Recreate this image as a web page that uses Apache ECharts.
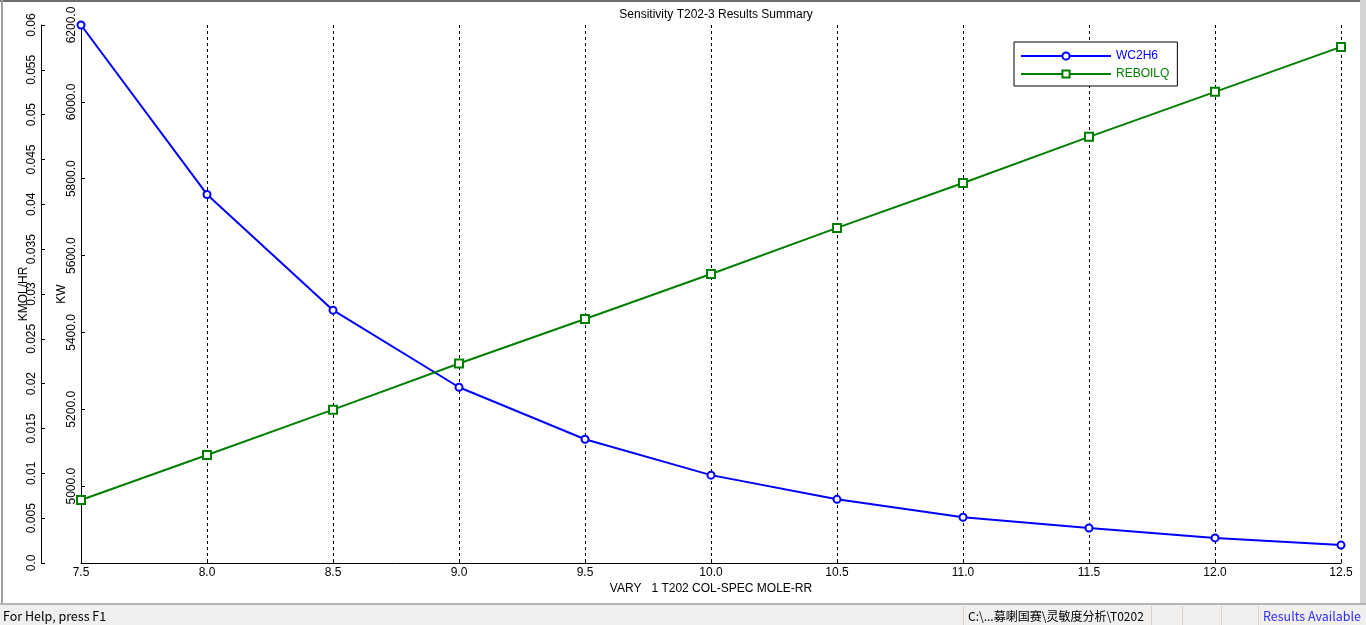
<!DOCTYPE html>
<html>
<head>
<meta charset="utf-8">
<script src="https://cdn.jsdelivr.net/npm/echarts@6/dist/echarts.min.js"></script>
<style>
html,body{margin:0;padding:0;background:#fff;}
#chart{width:1366px;height:625px;}
</style>
</head>
<body>
<div id="chart"></div>
<script>
var xValues = [7.5, 8.0, 8.5, 9.0, 9.5, 10.0, 10.5, 11.0, 11.5, 12.0, 12.5];
var wc2h6 = [0.0600, 0.0411, 0.0282, 0.0196, 0.0138, 0.0098, 0.0071, 0.0051, 0.0039, 0.0028, 0.0020];
var reboilq = [4964, 5081, 5199, 5319, 5435, 5552, 5672, 5789, 5909, 6026, 6143];
var seriesNames = ['WC2H6', 'REBOILQ'];
var titleText = 'Sensitivity T202-3 Results Summary';
var xAxisName = 'VARY   1 T202 COL-SPEC MOLE-RR';
var yAxisNames = ['KMOL/HR', 'KW'];
var statusTexts = ['For Help, press F1', 'C:\\...募喇国赛\\灵敏度分析\\T0202', 'Results Available'];

var FONT = '"Liberation Sans", Arial, sans-serif';
var SFONT = '"Noto Sans CJK SC", "Noto Sans", sans-serif';

function pairs(xs, ys) { return xs.map(function (x, i) { return [x, ys[i]]; }); }

var chart = echarts.init(document.getElementById('chart'), null, {renderer: 'canvas'});
var option = {
  backgroundColor: '#ffffff',
  animation: false,
  title: {
    text: titleText,
    left: 711,
    textAlign: 'center',
    top: 4,
    textStyle: {fontFamily: FONT, fontSize: 12, fontWeight: 'normal', color: '#000'}
  },
  legend: {
    orient: 'vertical',
    left: 1014,
    top: 42,
    padding: [8, 8, 6, 6],
    itemGap: 6,
    itemWidth: 90,
    itemHeight: 9,
    backgroundColor: '#ffffff',
    borderColor: '#000',
    borderWidth: 1,
    borderRadius: 0,
    textStyle: {fontFamily: FONT, fontSize: 12},
    data: [
      {name: seriesNames[0], textStyle: {color: '#0000ff'}},
      {name: seriesNames[1], textStyle: {color: '#008000'}}
    ]
  },
  grid: {left: 81, right: 25, top: 25, bottom: 62, containLabel: false},
  xAxis: {
    type: 'value',
    min: 7.5,
    max: 12.5,
    interval: 0.5,
    name: xAxisName,
    nameLocation: 'middle',
    nameGap: 20,
    nameMoveOverlap: false,
    nameTextStyle: {fontFamily: FONT, fontSize: 12, color: '#000'},
    axisLine: {show: true, onZero: false, lineStyle: {color: '#000', width: 1}},
    axisTick: {show: true, inside: true, length: 4, lineStyle: {color: '#000'}},
    axisLabel: {fontFamily: FONT, fontSize: 12, color: '#000', margin: 4,
      formatter: function (v) { return v.toFixed(1); }},
    splitLine: {show: true, lineStyle: {color: '#000', type: [3, 3], width: 1}}
  },
  yAxis: [
    {
      type: 'value',
      position: 'left',
      offset: 40,
      min: 0,
      max: 0.06,
      interval: 0.005,
      name: yAxisNames[0],
      nameLocation: 'middle',
      nameRotate: 90,
      nameGap: 11,
      nameMoveOverlap: false,
      nameTextStyle: {fontFamily: FONT, fontSize: 12, color: '#000'},
      axisLine: {show: true, onZero: false, lineStyle: {color: '#000', width: 1}},
      axisTick: {show: true, inside: true, length: 4, lineStyle: {color: '#000'}},
      axisLabel: {fontFamily: FONT, fontSize: 12, color: '#000', rotate: 90, margin: 3,
        formatter: function (v) { return v === 0 ? '0.0' : String(+v.toFixed(3)); }},
      splitLine: {show: false}
    },
    {
      type: 'value',
      position: 'left',
      offset: 0,
      min: 4800,
      max: 6200,
      interval: 200,
      name: yAxisNames[1],
      nameLocation: 'middle',
      nameRotate: 90,
      nameGap: 13,
      nameMoveOverlap: false,
      nameTextStyle: {fontFamily: FONT, fontSize: 12, color: '#000'},
      axisLine: {show: true, onZero: false, lineStyle: {color: '#000', width: 1}},
      axisTick: {show: true, inside: true, length: 4, lineStyle: {color: '#000'}},
      axisLabel: {fontFamily: FONT, fontSize: 12, color: '#000', rotate: 90, margin: 3,
        showMinLabel: false,
        formatter: function (v) { return v.toFixed(1); }},
      splitLine: {show: false}
    }
  ],
  series: [
    {
      name: seriesNames[0],
      type: 'line',
      yAxisIndex: 0,
      data: pairs(xValues, wc2h6),
      symbol: 'emptyCircle',
      symbolSize: 7,
      color: '#0000ff',
      lineStyle: {color: '#0000ff', width: 2},
      itemStyle: {color: '#0000ff', borderColor: '#0000ff', borderWidth: 1},
      clip: false
    },
    {
      name: seriesNames[1],
      type: 'line',
      yAxisIndex: 1,
      data: pairs(xValues, reboilq),
      symbol: 'emptyRect',
      symbolSize: 8,
      color: '#008000',
      lineStyle: {color: '#008000', width: 2},
      itemStyle: {color: '#008000', borderColor: '#008000', borderWidth: 1},
      clip: false
    }
  ],
  graphic: [
    {type: 'rect', shape: {x: 0, y: 0, width: 1366, height: 2}, style: {fill: '#6d6d6d'}, z: 100},
    {type: 'rect', shape: {x: 1, y: 0, width: 2, height: 604}, style: {fill: '#a0a0a0'}, z: 100},
    {type: 'rect', shape: {x: 1360, y: 0, width: 6, height: 605}, style: {fill: '#d4d4d4'}, z: 100},
    {type: 'rect', shape: {x: 0, y: 603, width: 1366, height: 2}, style: {fill: '#b4b4b4'}, z: 100},
    {type: 'rect', shape: {x: 0, y: 605, width: 1366, height: 20}, style: {fill: '#f0efed'}, z: 100},
    {type: 'rect', shape: {x: 963, y: 606, width: 1, height: 19}, style: {fill: '#d6d3ce'}, z: 101},
    {type: 'rect', shape: {x: 1151, y: 606, width: 1, height: 19}, style: {fill: '#d6d3ce'}, z: 101},
    {type: 'rect', shape: {x: 1182, y: 606, width: 1, height: 19}, style: {fill: '#d6d3ce'}, z: 101},
    {type: 'rect', shape: {x: 1221, y: 606, width: 1, height: 19}, style: {fill: '#d6d3ce'}, z: 101},
    {type: 'rect', shape: {x: 1258, y: 606, width: 1, height: 19}, style: {fill: '#d6d3ce'}, z: 101},
    {type: 'text', x: 3, y: 616, z: 102,
      style: {text: statusTexts[0], fill: '#000', font: '12.5px ' + SFONT, textVerticalAlign: 'middle'}},
    {type: 'text', x: 968, y: 616, z: 102,
      style: {text: statusTexts[1], fill: '#000', font: '12px ' + SFONT, textVerticalAlign: 'middle'}},
    {type: 'text', x: 1263, y: 616, z: 102,
      style: {text: statusTexts[2], fill: '#3030ff', font: '12.5px ' + SFONT, textVerticalAlign: 'middle'}}
  ]
};
chart.setOption(option);
</script>
</body>
</html>
